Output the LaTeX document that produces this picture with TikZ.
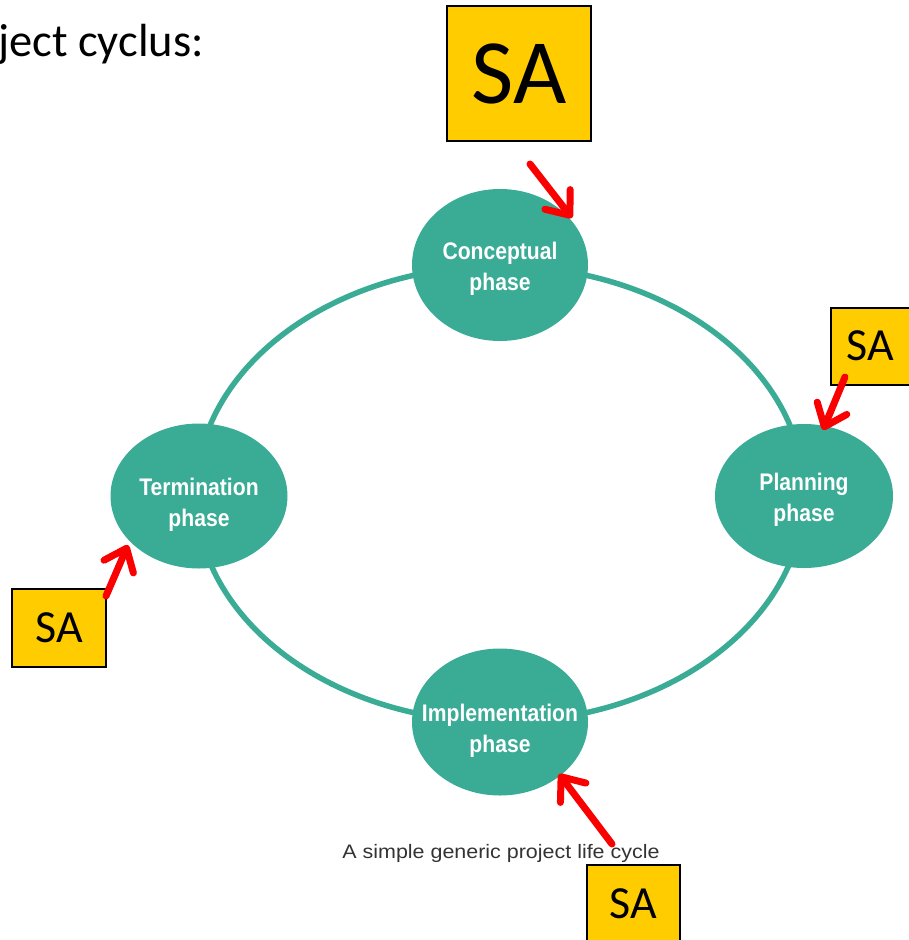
\documentclass[tikz,border=0pt]{standalone}
\usepackage{fontspec}
\usetikzlibrary{shapes.geometric,arrows.meta}
\setmainfont{Carlito}
\newfontfamily\phasefont[FakeStretch=0.88]{Liberation Sans}
\newfontfamily\capfont[FakeStretch=1.1]{Liberation Sans}
\definecolor{tealc}{RGB}{58,172,150}
\definecolor{sayellow}{RGB}{255,204,0}
\definecolor{arrred}{RGB}{250,0,0}
\tikzset{
  phasenode/.style={ellipse, fill=tealc, inner sep=0pt},
  phasetext/.style={inner sep=0pt, text=white, align=center, yshift=-4pt,
    font=\phasefont\bfseries\fontsize{24}{30.5}\selectfont},
  sabox/.style={rectangle, fill=sayellow, draw=black, line width=2pt, inner sep=0pt},
  saarrow/.style={draw=arrred, line width=7pt, line cap=round,
    -{Straight Barb[length=20pt,width=32pt,line cap=round,round]}},
  ring/.style={draw=tealc, line width=5.5pt}
}
\begin{document}
\begin{tikzpicture}[x=1pt,y=-1pt]
\useasboundingbox (0,0) rectangle (909,940);
% title
\node[anchor=base west, inner sep=0pt, font=\fontsize{46.5}{54}\selectfont] (title) at (-2,56) {ject cyclus:};
% ring
\coordinate (ctr) at (500,494);
\draw[ring] (ctr) ellipse [x radius=304, y radius=228];
% phases
\node[phasenode, minimum width=176pt, minimum height=152pt] (conc) at (500,265) {};
\node[phasenode, minimum width=178pt, minimum height=144pt] (plan) at (804,496) {};
\node[phasenode, minimum width=177pt, minimum height=145pt] (term) at (199,496) {};
\node[phasenode, minimum width=176pt, minimum height=147pt] (impl) at (500,722) {};
\node[phasetext] (conct) at (conc) {Conceptual\\phase};
\node[phasetext] (plant) at (plan) {Planning\\phase};
\node[phasetext, yshift=-5pt] (termt) at (term) {Termination\\phase};
\node[phasetext, yshift=-5pt] (implt) at (impl) {Implementation\\phase};
% caption
\node[anchor=base, inner sep=0pt, text=black!80, font=\capfont\fontsize{19.5}{23}\selectfont] (cap) at (501,858) {A simple generic project life cycle};
% SA boxes
\node[sabox, minimum width=144pt, minimum height=135pt, font=\fontsize{92}{100}\selectfont] (satop) at (519,73.5) {SA};
\node[sabox, minimum width=84pt, minimum height=77pt, font=\fontsize{46}{50}\selectfont, anchor=west] (saright) at (830,346) {\hspace*{-6pt}SA};
\node[sabox, minimum width=94pt, minimum height=78pt, font=\fontsize{46}{50}\selectfont] (saleft) at (59,628) {SA};
\node[sabox, minimum width=93pt, minimum height=84pt, font=\fontsize{46}{50}\selectfont, anchor=north] (sabot) at (633.5,864) {\raisebox{6pt}{SA}};
% arrow ends
\coordinate (a1s) at (530,164);
\coordinate (a1e) at (572,218);
\coordinate (a2s) at (845,377);
\coordinate (a2e) at (823,430);
\coordinate (a3s) at (106,596);
\coordinate (a3e) at (128,545);
\coordinate (a4s) at (612,844);
\coordinate (a4e) at (559,774);
\draw[saarrow] (a1s) -- (a1e);
\draw[saarrow] (a2s) -- (a2e);
\draw[saarrow] (a3s) -- (a3e);
\draw[saarrow] (a4s) -- (a4e);
\end{tikzpicture}
\end{document}
